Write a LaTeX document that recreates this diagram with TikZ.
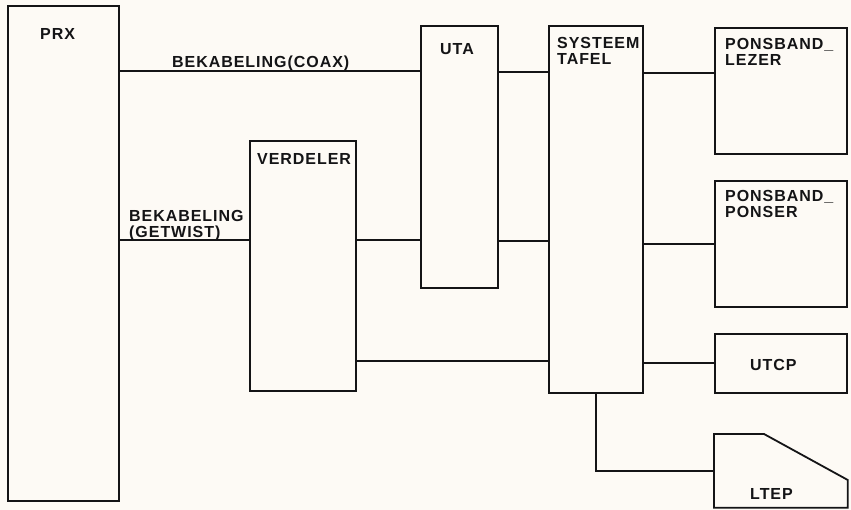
\documentclass[tikz,border=0pt]{standalone}
\usepackage{fontspec}
\newfontfamily\blockfont{Liberation Sans Bold}[LetterSpace=6]
\definecolor{paper}{RGB}{253, 250, 245}
\definecolor{ink}{RGB}{20, 20, 22}
\usetikzlibrary{positioning, calc}

\begin{document}
\begin{tikzpicture}[
        x=1pt, y=-1pt,
        block/.style={draw=ink, line width=1.8pt, inner sep=0pt, anchor=north west},
        tag/.style={font=\blockfont\fontsize{16}{16}\selectfont, text=ink, inner sep=0pt, anchor=north west, align=left},
        wire/.style={draw=ink, line width=1.4pt}
    ]
        % Page and margins
        \fill[paper] (0,0) rectangle (851,510);
        \useasboundingbox (0,0) rectangle (851,510);

        % Blocks
        \node[block, minimum width=111pt, minimum height=495pt] (prx) at (7,5) {};
        \node[block, minimum width=106pt, minimum height=250pt] (verdeler) at (249,140) {};
        \node[block, minimum width=77pt, minimum height=262pt] (uta) at (420,25) {};
        \node[block, minimum width=94pt, minimum height=367pt] (tafel) at (548,25) {};
        \node[block, minimum width=132pt, minimum height=126pt] (lezer) at (714,27) {};
        \node[block, minimum width=132pt, minimum height=126pt] (ponser) at (714,180) {};
        \node[block, minimum width=132pt, minimum height=59pt] (utcp) at (714,333) {};
        \node[block, draw=none, minimum width=132pt, minimum height=72pt] (ltep) at (714,434) {};
        % LTEP with cut corner
        \draw[ink, line width=1.8pt, line join=miter]
            (ltep.south west) -- (ltep.north west) -- ($(ltep.north west)+(50,0)$)
            -- ($(ltep.north east)+(0,46)$) -- (ltep.south east) -- cycle;

        % Block texts
        \node[tag] (prxtag) at (40,28) {PRX};
        \node[tag] (verdelertag) at (257,153) {VERDELER};
        \node[tag] (utatag) at (440,43) {UTA};
        \node[tag] (tafeltag) at (557,37) {SYSTEEM\\TAFEL};
        \node[tag] (lezertag) at (725,38) {PONSBAND\_\\LEZER};
        \node[tag] (ponsertag) at (725,190) {PONSBAND\_\\PONSER};
        \node[tag] (utcptag) at (750,359) {UTCP};
        \node[tag] (lteptag) at (750,488) {LTEP};

        % Cable texts
        \node[tag, anchor=base west] (coaxtag) at (172,68) {BEKABELING(COAX)};
        \node[tag] (twisttag) at (129,210) {BEKABELING\\(GETWIST)};

        % Connections
        \draw[wire] (prx.east |- 0,71) -- (uta.west |- 0,71);
        \draw[wire] (prx.east |- 0,240) -- (verdeler.west |- 0,240);
        \draw[wire] (verdeler.east |- 0,240) -- (uta.west |- 0,240);
        \draw[wire] (uta.east |- 0,72) -- (tafel.west |- 0,72);
        \draw[wire] (uta.east |- 0,241) -- (tafel.west |- 0,241);
        \draw[wire] (verdeler.east |- 0,361) -- (tafel.west |- 0,361);
        \draw[wire] (tafel.east |- 0,73) -- (lezer.west |- 0,73);
        \draw[wire] (tafel.east |- ponser.west) -- (ponser.west);
        \draw[wire] (tafel.east |- 0,363) -- (utcp.west |- 0,363);
        \draw[wire] (tafel.south) |- (ltep.west);
    \end{tikzpicture}
\end{document}
